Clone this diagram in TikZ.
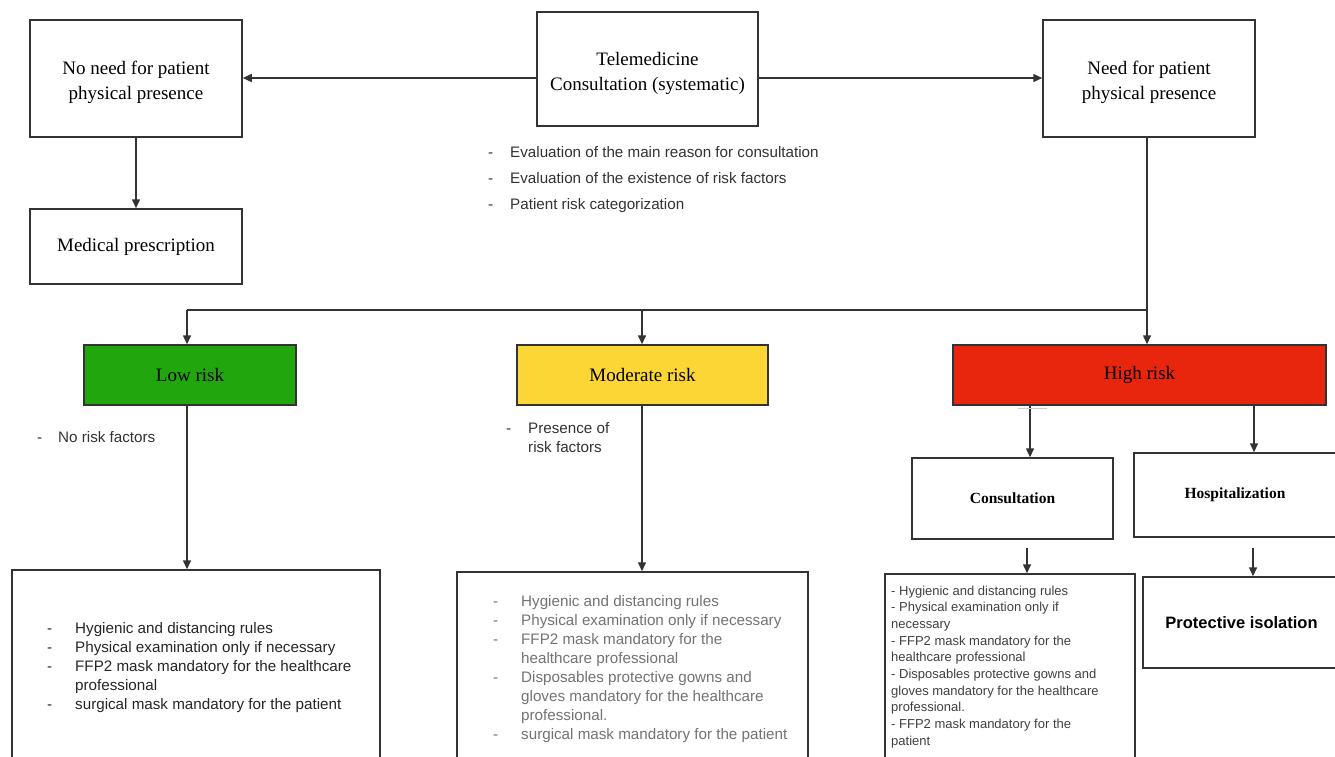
\documentclass[tikz,border=0pt]{standalone}
\usepackage{fontspec}
\setmainfont{Liberation Serif}
\setsansfont{Liberation Sans}
\usetikzlibrary{arrows.meta}
\definecolor{lowgreen}{HTML}{21A60E}
\definecolor{modyellow}{HTML}{FCD634}
\definecolor{highred}{HTML}{E8250D}
\definecolor{linegray}{HTML}{333333}
\tikzset{
  box/.style={draw=linegray, line width=1.5pt, inner sep=0pt, align=center, text=black},
  ttl/.style={font=\fontsize{19}{25}\selectfont},
  arr/.style={draw=linegray, line width=1.5pt, -{Triangle[length=9pt,width=8pt]}},
  ln/.style={draw=linegray, line width=1.5pt},
  lst/.style={anchor=base west, inner sep=0pt, font=\sffamily\fontsize{15.2}{19}\selectfont, align=left},
}
\begin{document}
\begin{tikzpicture}[x=1pt,y=-1pt]
\clip (0,0) rectangle (1335,756);
\fill[white] (0,0) rectangle (1335,756);
% top row
\node[box,ttl,minimum width=212pt,minimum height=117pt] (nn) at (136,78.5) {\rule{0pt}{22pt}No need for patient\\physical presence};
\node[box,ttl,minimum width=221pt,minimum height=114pt] (tele) at (647.5,69) {\rule{0pt}{22pt}Telemedicine\\Consultation (systematic)};
\node[box,ttl,minimum width=212pt,minimum height=117pt] (need) at (1149,78.5) {\rule{0pt}{22pt}Need for patient\\physical presence};
\node[box,ttl,minimum width=212pt,minimum height=75pt] (med) at (136,246.5) {Medical prescription};
% risk boxes
\node[box,ttl,fill=lowgreen,minimum width=212pt,minimum height=60pt] (low) at (190,375) {Low risk};
\node[box,ttl,fill=modyellow,minimum width=251pt,minimum height=60pt] (mod) at (642.5,375) {Moderate risk};
\node[box,ttl,fill=highred,minimum width=373pt,minimum height=60pt] (high) at (1139.5,375) {High risk};
% high risk sub boxes
\node[box,font=\bfseries\fontsize{15.5}{18}\selectfont,minimum width=201pt,minimum height=81pt] (cons) at (1012.5,498.5) {Consultation};
\node[box,font=\bfseries\fontsize{15.5}{18}\selectfont,minimum width=202pt,minimum height=84pt] (hosp) at (1235,495) {Hospitalization};
% bottom boxes
\node[box,minimum width=368pt,minimum height=200pt] (bl) at (196,670) {};
\node[box,minimum width=351pt,minimum height=200pt] (bm) at (632.5,672) {};
\node[box,minimum width=250pt,minimum height=200pt] (br) at (1010,674) {};
\node[box,font=\sffamily\bfseries\fontsize{16.5}{19}\selectfont,minimum width=197pt,minimum height=91pt] (prot) at (1241.5,622.5) {Protective isolation};
% top arrows
\coordinate (ya) at (0,78);
\draw[arr] (tele.west |- ya) -- (nn.east |- ya);
\draw[arr] (tele.east |- ya) -- (need.west |- ya);
\draw[arr] (nn.south) -- (med.north);
% distribution line
\coordinate (jl) at (187,310);
\coordinate (jm) at (642,310);
\coordinate (jh) at (1147,310);
\draw[ln] (need.south -| jh) -- (jh);
\draw[ln] (jl) -- (jh);
\draw[arr] (jl) -- (low.north -| jl);
\draw[arr] (jm) -- (mod.north -| jm);
\draw[arr] (jh) -- (high.north -| jh);
% down to bottom boxes
\draw[arr] (low.south -| jl) -- (bl.north -| jl);
\draw[arr] (mod.south -| jm) -- (bm.north -| jm);
\coordinate (hc) at (1030,0);
\coordinate (hh) at (1254,0);
\draw[arr] (high.south -| hc) -- (cons.north -| hc);
\draw[arr] (high.south -| hh) -- (hosp.north -| hh);
\draw[gray!40, line width=1pt] (1018,408) -- (1047,408);
\coordinate (sa1) at (1027,548);
\coordinate (sa2) at (1253,548);
\draw[arr] (sa1) -- (br.north -| sa1);
\draw[arr] (sa2) -- (prot.north -| sa2);
% lists
\node[lst,text=black!80] (tl) at (488,157) {\begin{tabular}[t]{@{}p{22pt}@{}l@{}}
- & Evaluation of the main reason for consultation\\[7pt]
- & Evaluation of the existence of risk factors\\[7pt]
- & Patient risk categorization
\end{tabular}};
\node[lst,text=black!80] (nrf) at (37,442) {\begin{tabular}[t]{@{}p{21pt}@{}l@{}}
- & No risk factors
\end{tabular}};
\node[lst,text=black!80] (prf) at (506,433) {\begin{tabular}[t]{@{}p{22pt}@{}l@{}}
- & Presence of\\[-0pt]
 & risk factors
\end{tabular}};
\node[lst,text=black!85] (bll) at (47,633) {\begin{tabular}[t]{@{}p{28pt}@{}l@{}}
- & Hygienic and distancing rules\\
- & Physical examination only if necessary\\
- & FFP2 mask mandatory for the healthcare\\
 & professional\\
- & surgical mask mandatory for the patient
\end{tabular}};
\node[lst,text=black!55] (bml) at (493,606) {\begin{tabular}[t]{@{}p{28pt}@{}l@{}}
- & Hygienic and distancing rules\\
- & Physical examination only if necessary\\
- & FFP2 mask mandatory for the\\
 & healthcare professional\\
- & Disposables protective gowns and\\
 & gloves mandatory for the healthcare\\
 & professional.\\
- & surgical mask mandatory for the patient
\end{tabular}};
\node[lst,text=black!75,font=\sffamily\fontsize{13}{16.7}\selectfont] (brl) at (891,595) {\begin{tabular}[t]{@{}l@{}}
- Hygienic and distancing rules\\
- Physical examination only if\\
necessary\\
- FFP2 mask mandatory for the\\
healthcare professional\\
- Disposables protective gowns and\\
gloves mandatory for the healthcare\\
professional.\\
- FFP2 mask mandatory for the\\
patient
\end{tabular}};
\end{tikzpicture}
\end{document}
